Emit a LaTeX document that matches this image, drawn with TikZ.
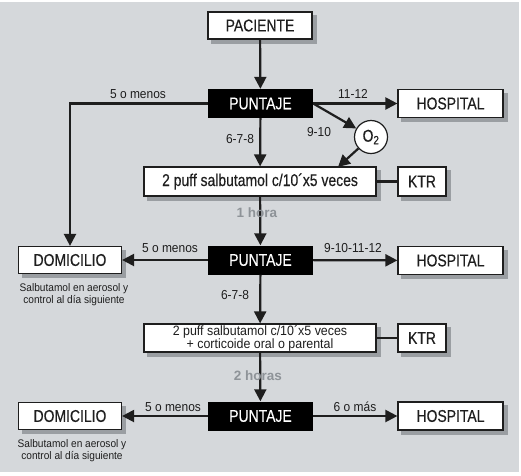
\documentclass[tikz,border=0pt]{standalone}
\usepackage{fontspec}
\setmainfont{Liberation Sans}
\newfontfamily\boxfont{Liberation Sans}[FakeStretch=0.82, FakeBold=0.3]
\newfontfamily\lblfont{Liberation Sans}[FakeStretch=0.92]
\usetikzlibrary{arrows.meta, backgrounds}
\definecolor{cbg}{HTML}{D5D8DB}
\definecolor{cshadow}{HTML}{9A9EA2}
\definecolor{cink}{HTML}{1E1E1E}
\definecolor{cgreyt}{HTML}{8E9398}
\tikzset{
  box/.style={draw=cink, fill=white, line width=1.2pt, minimum width=#1, minimum height=28pt, inner sep=0pt,
    font=\boxfont\fontsize{17}{19}\selectfont, text=cink},
  box/.default=105pt,
  puntaje/.style={fill=black, text=white, minimum width=105pt, minimum height=29pt, inner sep=0pt,
    font=\boxfont\fontsize{17}{19}\selectfont},
  arrow/.style={-{Triangle[length=12pt, width=12pt]}, draw=cink, line width=2.2pt},
  link/.style={draw=cink, line width=2.2pt},
  lbl/.style={font=\lblfont\fontsize{13}{15}\selectfont, text=cink},
  note/.style={font=\lblfont\fontsize{11}{12}\selectfont, text=cink, align=center},
  hora/.style={font=\bfseries\fontsize{13.5}{15}\selectfont, text=cgreyt},
}
\begin{document}
\begin{tikzpicture}[x=1pt, y=-1pt]
  \useasboundingbox (0,0) rectangle (521,475);

  % first round
  \node[box=104pt, minimum height=27pt] (pac) at (260,25.5) {PACIENTE};
  \node[puntaje] (p1) at (260.5,103.5) {PUNTAJE};
  \node[box] (h1) at (450.5,103.5) {HOSPITAL};
  \node[circle, draw=cink, fill=white, line width=1.2pt, minimum size=33pt, inner sep=0pt,
    font=\boxfont\fontsize{17}{19}\selectfont, text=cink] (o2) at (371,137) {O\textsubscript{2}};
  \node[box=232pt, minimum height=29pt] (b1) at (260,181.5) {2 puff salbutamol c/10´x5 veces};
  \node[box=48pt, minimum height=29pt] (k1) at (422,181.5) {KTR};
  \coordinate (b1o) at (338,167);

  % second round
  \node[puntaje] (p2) at (260.5,260) {PUNTAJE};
  \node[box=103pt, minimum height=27pt] (d1) at (70,260) {DOMICILIO};
  \node[box] (h2) at (450.5,260.5) {HOSPITAL};
  \node[box=232pt, align=center, font=\lblfont\fontsize{13.5}{13}\selectfont] (b2) at (260,338)
    {2 puff salbutamol c/10´x5 veces\\+ corticoide oral o parental};
  \node[box=48pt] (k2) at (422,338) {KTR};

  % third round
  \node[puntaje] (p3) at (260.5,416) {PUNTAJE};
  \node[box=103pt, minimum height=27pt] (d2) at (70,416) {DOMICILIO};
  \node[box] (h3) at (450.5,416) {HOSPITAL};

  % grey page and shadows
  \begin{pgfonlayer}{background}
    \fill[cbg] (0,2) rectangle (519,472);
    \foreach \n in {pac,h1,b1,k1,d1,h2,b2,k2,d2,h3}
      \fill[cshadow] ([shift={(4,4)}]\n.south west) rectangle ([shift={(4,4)}]\n.north east);
  \end{pgfonlayer}

  % connectors
  \draw[arrow] (pac) -- (p1);
  \draw[arrow] (p1) -- (h1);
  \draw[arrow] (p1.west) -| (d1.north);
  \draw[arrow] (p1.east) -- (o2);
  \draw[arrow] (o2) -- (b1o);
  \draw[arrow] (p1) -- (b1);
  \draw[link] (b1) -- (k1);
  \draw[arrow] (b1) -- (p2);
  \draw[arrow] (p2) -- (d1);
  \draw[arrow] (p2) -- (h2);
  \draw[arrow] (p2) -- (b2);
  \draw[link] (b2) -- (k2);
  \draw[arrow] (b2) -- (p3);
  \draw[arrow] (p3) -- (d2);
  \draw[arrow] (p3) -- (h3);

  % labels
  \node[lbl] (l1) at (138,94) {5 o menos};
  \node[lbl] (l2) at (353,94) {11-12};
  \node[lbl] (l3) at (319,132) {9-10};
  \node[lbl] (l4) at (240,139) {6-7-8};
  \node[hora] (t1) at (257,213) {1 hora};
  \node[lbl] (l5) at (170,248) {5 o menos};
  \node[lbl] (l6) at (353,248) {9-10-11-12};
  \node[lbl] (l7) at (235,295) {6-7-8};
  \node[note] (n1) at (74,295) {Salbutamol en aerosol y\\control al día siguiente};
  \node[hora] (t2) at (258,376) {2 horas};
  \node[lbl] (l8) at (173,407) {5 o menos};
  \node[lbl] (l9) at (355,407) {6 o más};
  \node[note] (n2) at (72,451) {Salbutamol en aerosol y\\control al día siguiente};
\end{tikzpicture}
\end{document}
